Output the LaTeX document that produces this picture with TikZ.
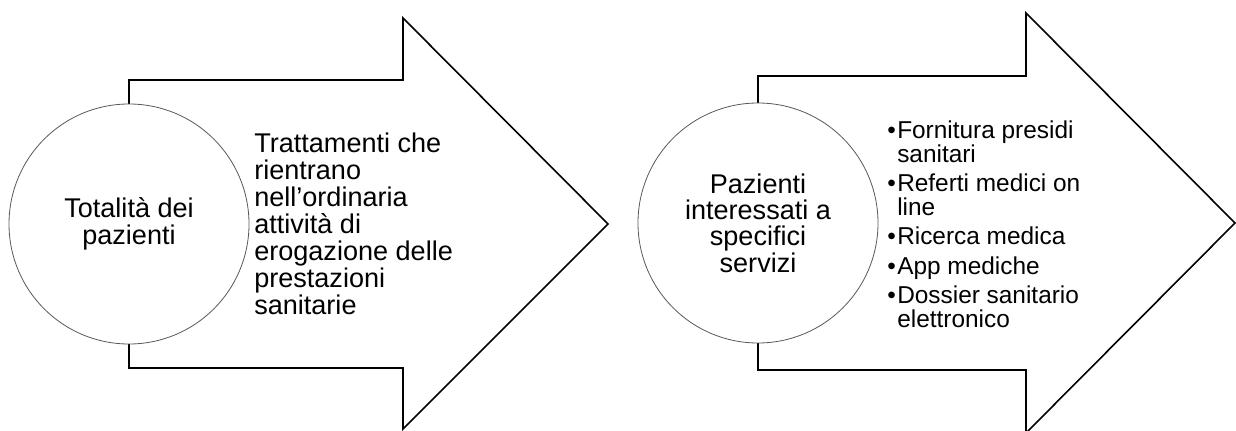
\documentclass[tikz,border=0pt]{standalone}
\usepackage{fontspec}
\setmainfont{Liberation Sans}
\newcommand{\bul}{\makebox[7.5pt][l]{•}}
\newcommand{\hang}{\hspace*{7.5pt}}

\begin{document}
\begin{tikzpicture}[x=0.75pt,y=0.75pt,yscale=-1,xscale=1,
  arrowshape/.style={draw=black,line width=1.2pt,line join=miter},
  disc/.style={circle,draw=black!65,line width=0.6pt,fill=white,minimum size=180pt,inner sep=0pt,align=center,font=\fontsize{20.3}{19.8}\selectfont},
  bigtxt/.style={anchor=west,inner sep=0.75pt,align=left,font=\fontsize{20.3}{20.25}\selectfont},
  listtxt/.style={anchor=west,inner sep=0.75pt,align=left,font=\fontsize{18.3}{18}\selectfont}]

\useasboundingbox (0,0) rectangle (1236,431);

% first arrow
\draw [arrowshape] (129,80) -- (403,80) -- (403,18) -- (608,224) -- (403,429) -- (403,368) -- (129,368) -- cycle ;
\node [disc] (tot) at (129,224) {Totalità dei\\pazienti};
\node [bigtxt] (trt) at (253,224) {Trattamenti che\\rientrano\\nell’ordinaria\\attività di\\erogazione delle\\prestazioni\\sanitarie};

% second arrow
\draw [arrowshape] (758,76) -- (1026,76) -- (1026,13) -- (1235,223) -- (1026,433) -- (1026,370) -- (758,370) -- cycle ;
\node [disc] (srv) at (758,223) {Pazienti\\interessati a\\specifici\\servizi};
\node [listtxt] (lst) at (886,224) {\bul Fornitura presidi\\\hang sanitari\\[4pt]\bul Referti medici on\\\hang line\\[4pt]\bul Ricerca medica\\[4pt]\bul App mediche\\[4pt]\bul Dossier sanitario\\\hang elettronico};

\end{tikzpicture}
\end{document}
